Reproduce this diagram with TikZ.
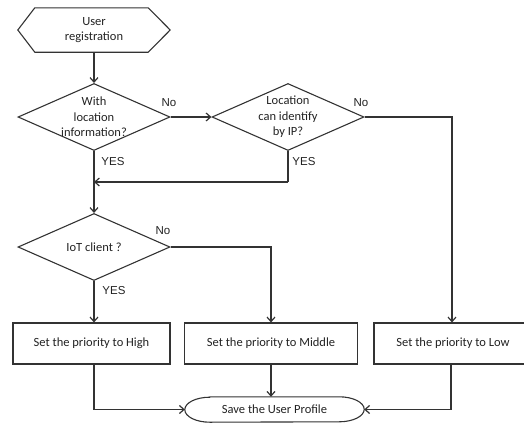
\documentclass[tikz,border=0pt]{standalone}
\usepackage{fontspec}
\setmainfont{Carlito}
\newfontfamily\lblfont{Liberation Sans}
\usetikzlibrary{shapes.geometric,arrows.meta}
\definecolor{ln}{HTML}{333333}
\definecolor{tx}{HTML}{222222}
\tikzset{
  conn/.style={draw=ln, line width=1.3pt},
  arr/.style={conn, -{Straight Barb[length=4.5pt,width=8pt,line width=1.2pt]}},
  boxnode/.style={draw=ln, line width=1.1pt, rectangle, minimum height=41pt, inner sep=0pt, text=tx, font=\fontsize{12.5}{15.5}\selectfont},
  decnode/.style={draw=ln, line width=1.1pt, diamond, minimum width=152pt, minimum height=67pt, inner sep=0pt},
  dtext/.style={align=center, inner sep=0pt, text=tx, font=\fontsize{12.5}{15.5}\selectfont},
  lbl/.style={inner sep=0pt, text=tx, font=\lblfont\fontsize{11.5}{13}\selectfont},
}
\begin{document}
\begin{tikzpicture}[x=1pt,y=-1pt]
\useasboundingbox (0,0) rectangle (524,423);
% start hexagon
\node[minimum width=152pt, minimum height=44pt, inner sep=0pt, align=center, text=tx, font=\fontsize{12.5}{15.5}\selectfont] (reg) at (94,30) {User\\registration};
\draw[draw=ln, line width=1.1pt] (reg.west) -- ([xshift=17pt]reg.north west) -- ([xshift=-22pt]reg.north east) -- (reg.east) -- ([xshift=-22pt]reg.south east) -- ([xshift=17pt]reg.south west) -- cycle;
% decisions
\node[decnode] (d1) at (94,117) {};
\node[dtext] (d1t) at (d1.center) {With\\location\\information?};
\node[decnode] (d2) at (288,117) {};
\node[dtext] (d2t) at (d2.center) {Location\\can identify\\by IP?};
\node[decnode] (d3) at (94,247) {};
\node[dtext] (d3t) at (d3.center) {IoT client ?};
% action boxes
\node[boxnode, minimum width=157pt] (high) at (91.5,343.5) {Set the priority to High};
\node[boxnode, minimum width=173pt] (mid) at (271,343.5) {Set the priority to Middle};
\node[boxnode, minimum width=158pt] (low) at (453,343.5) {Set the priority to Low};
% terminal
\node[minimum width=179pt, minimum height=25pt, inner sep=0pt, text=tx, font=\fontsize{12.5}{15.5}\selectfont] (save) at (274.5,409.5) {Save the User Profile};
\draw[draw=ln, line width=1.1pt] ([xshift=25pt]save.north west) -- ([xshift=-25pt]save.north east)
  arc[start angle=90, end angle=-90, x radius=25pt, y radius=12.5pt]
  -- ([xshift=25pt]save.south west)
  arc[start angle=270, end angle=90, x radius=25pt, y radius=12.5pt] -- cycle;
% connectors
\coordinate (j) at (94,182);
\draw[arr] (reg.south) -- (d1.north);
\draw[arr] (d1.east) -- (d2.west);
\draw[arr] (d2.east) -| ([xshift=-1pt]low.north);
\draw[conn] (d2.south) |- (288,182);
\draw[arr] (288,182) -- (j);
\draw[arr] (d1.south) -- (d3.north);
\draw[arr] (d3.east) -| (mid.north);
\draw[arr] (d3.south) -- (d3.south |- high.north);
\draw[arr] (d3.south |- high.south) |- (save.west);
\draw[arr] (mid.south) -- (mid.south |- save.north);
\draw[arr] ([xshift=-2pt]low.south) |- (save.east);
% labels
\node[lbl] (l1) at (169,103) {No};
\node[lbl] (l2) at (113,162) {YES};
\node[lbl] (l3) at (361,103) {No};
\node[lbl] (l4) at (304,162) {YES};
\node[lbl] (l5) at (163,231) {No};
\node[lbl] (l6) at (114,291) {YES};
\end{tikzpicture}
\end{document}
